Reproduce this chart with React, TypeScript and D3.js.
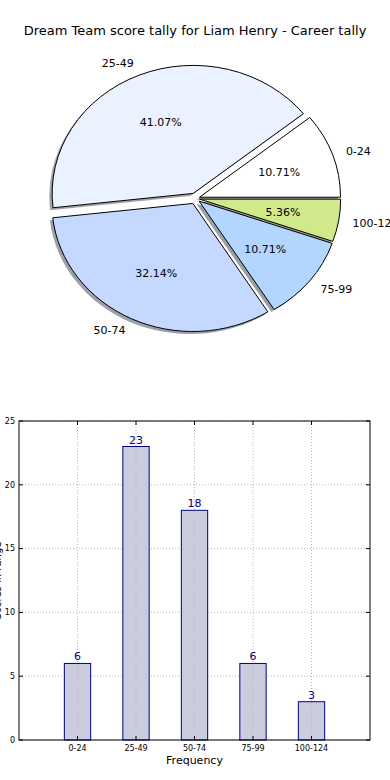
import React from "react";
import * as d3 from "d3";

const categories = ["0-24", "25-49", "50-74", "75-99", "100-124"];
const counts = [6, 23, 18, 6, 3];
const pieColors = ["#ffffff", "#ebf2ff", "#c5d8ff", "#b3d6ff", "#d0ea8b"];
const explode = [0.03, 0.043, 0.043, 0.033, 0.03];
const yTicks = [0, 5, 10, 15, 20, 25];
const title = "Dream Team score tally for Liam Henry - Career tally";
const xLabel = "Frequency";
const yLabel = "Scores in range";

const FONT = "DejaVu Sans, sans-serif";

function shade(c: string) {
  const rgb = d3.rgb(c);
  return d3.rgb(rgb.r * 0.3, rgb.g * 0.3, rgb.b * 0.3).formatHex();
}

export default function App() {
  // Pie geometry
  const cx = 195.5, cy = 198.5, rx = 141, ry = 128;
  const total = d3.sum(counts);
  const pie = d3.pie<number>().sort(null).value((d) => d)
    .startAngle(0).endAngle(2 * Math.PI);
  const arcsData = pie(counts);
  // matplotlib: theta from 3 o'clock counterclockwise
  const slices = arcsData.map((a, i) => {
    const t1 = a.startAngle, t2 = a.endAngle;
    const tm = (t1 + t2) / 2;
    const ox = cx + explode[i] * rx * Math.cos(tm);
    const oy = cy - explode[i] * ry * Math.sin(tm);
    const arcGen = d3.arc<any>().innerRadius(0).outerRadius(1)
      .startAngle(Math.PI / 2 - t2).endAngle(Math.PI / 2 - t1);
    return { i, t1, t2, tm, ox, oy, d: arcGen({}) as string };
  });
  const shX = -0.02 * rx, shY = 0.02 * ry;

  // Bar geometry
  const left = 19, right = 370, top = 421, bottom = 740;
  const x = d3.scaleLinear().domain([-1, 5]).range([left, right]);
  const y = d3.scaleLinear().domain([0, 25]).range([bottom, top]);
  const bw = 0.45;

  return (
    <svg width={390} height={780} style={{ position: "absolute", left: 0, top: 0, background: "#fff" }}
      fontFamily={FONT}>
      <rect width={390} height={780} fill="#fff" />
      <text x={195} y={34.5} textAnchor="middle" fontSize={13} fill="#000">{title}</text>

      {/* shadows */}
      {slices.map((s) => (
        <path key={"sh" + s.i} d={s.d}
          transform={`translate(${s.ox + shX},${s.oy + shY}) scale(${rx},${ry})`}
          fill={shade(pieColors[s.i])} fillOpacity={0.5} stroke="none" />
      ))}
      {slices.map((s) => (
        <path key={"w" + s.i} d={s.d}
          transform={`translate(${s.ox},${s.oy}) scale(${rx},${ry})`}
          fill={pieColors[s.i]} stroke="#000" strokeWidth={1}
          vectorEffect="non-scaling-stroke" />
      ))}
      {slices.map((s) => {
        const lx = s.ox + 1.1 * rx * Math.cos(s.tm);
        const ly = s.oy - 1.1 * ry * Math.sin(s.tm);
        return (
          <text key={"l" + s.i} x={lx} y={ly} dy="0.35em" fontSize={11}
            textAnchor={Math.cos(s.tm) > 0 ? "start" : "end"} fill="#000">
            {categories[s.i]}
          </text>
        );
      })}
      {slices.map((s) => {
        const lx = s.ox + 0.6 * rx * Math.cos(s.tm);
        const ly = s.oy - 0.6 * ry * Math.sin(s.tm);
        return (
          <text key={"p" + s.i} x={lx} y={ly} dy="0.35em" fontSize={11}
            textAnchor="middle" fill="#000">
            {((counts[s.i] / total) * 100).toFixed(2) + "%"}
          </text>
        );
      })}

      {/* bar chart */}
      {yTicks.map((t) => (
        <line key={"gy" + t} x1={left} x2={right} y1={y(t)} y2={y(t)}
          stroke="#b8b8b8" strokeWidth={1} strokeDasharray="1,2" />
      ))}
      {counts.map((c, i) => (
        <rect key={"b" + i} x={x(i - bw / 2)} y={y(c)} width={x(bw) - x(0)} height={y(0) - y(c)}
          fill="#ccccdf" stroke="#000080" strokeWidth={1} />
      ))}
      {categories.map((c, i) => (
        <line key={"gx" + i} x1={x(i)} x2={x(i)} y1={top} y2={bottom}
          stroke="#b8b8b8" strokeWidth={1} strokeDasharray="1,2" />
      ))}
      {counts.map((c, i) => (
        <text key={"bl" + i} x={x(i)} y={y(c) - 3} textAnchor="middle" fontSize={11} fill="#000080">{c}</text>
      ))}
      <rect x={left} y={top} width={right - left} height={bottom - top} fill="none" stroke="#000" strokeWidth={1} />
      {yTicks.map((t) => (
        <g key={"ty" + t}>
          <line x1={left} x2={left + 4} y1={y(t)} y2={y(t)} stroke="#000" />
          <line x1={right - 4} x2={right} y1={y(t)} y2={y(t)} stroke="#000" />
          <text x={left - 4} y={y(t)} dy="0.35em" textAnchor="end" fontSize={8} fill="#000">{t}</text>
        </g>
      ))}
      {categories.map((c, i) => (
        <g key={"tx" + i}>
          <line x1={x(i)} x2={x(i)} y1={bottom} y2={bottom - 4} stroke="#000" />
          <line x1={x(i)} x2={x(i)} y1={top} y2={top + 4} stroke="#000" />
          <text x={x(i)} y={bottom + 11} textAnchor="middle" fontSize={8} fill="#000">{c}</text>
        </g>
      ))}
      <text x={(left + right) / 2} y={764} textAnchor="middle" fontSize={11} fill="#000">{xLabel}</text>
      <text transform={`translate(1,${(top + bottom) / 2}) rotate(-90)`} textAnchor="middle" fontSize={10} fill="#000">{yLabel}</text>
    </svg>
  );
}
